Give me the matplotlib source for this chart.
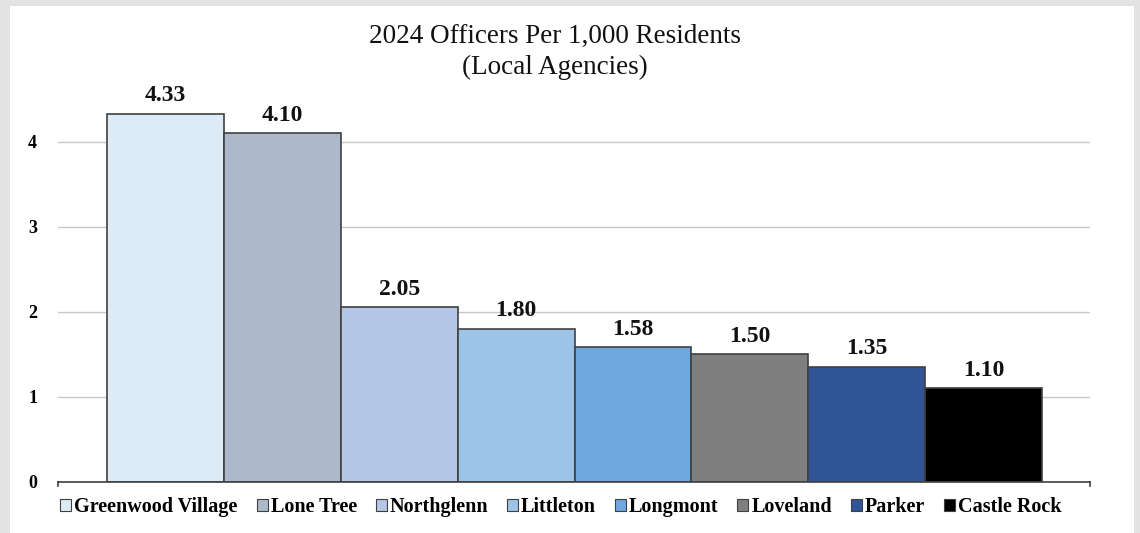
import matplotlib
matplotlib.use("Agg")
import matplotlib.pyplot as plt
from matplotlib.patches import Rectangle, Patch

agencies = ["Greenwood Village", "Lone Tree", "Northglenn", "Littleton",
            "Longmont", "Loveland", "Parker", "Castle Rock"]
values = [4.33, 4.10, 2.05, 1.80, 1.58, 1.50, 1.35, 1.10]
colors = ["#DDEBF7", "#ADB9CA", "#B4C7E7", "#9DC3E6",
          "#6FA8DC", "#7F7F7F", "#2F5597", "#000000"]
yticks = [0, 1, 2, 3, 4]
title = "2024 Officers Per 1,000 Residents\n(Local Agencies)"

serif = ["Liberation Serif", "DejaVu Serif"]

fig = plt.figure(figsize=(11.4, 5.33), dpi=100)
fig.patch.set_facecolor("#E3E3E3")
fig.patches.append(Rectangle((10/1140, 0), (1134-10)/1140, 1-6/533,
                             transform=fig.transFigure, facecolor="white",
                             edgecolor="none", zorder=-10))

ax = fig.add_axes([58/1140, 1-481.7/533, (1090-58)/1140, (481.7-90.7)/533])
ax.set_facecolor("none")

xs = list(range(len(agencies)))
bars = ax.bar(xs, values, width=1.0, color=colors, edgecolor="#404040",
              linewidth=1.2, zorder=3)
for x, v in zip(xs, values):
    ax.text(x, v + 0.09, f"{v:.2f}", ha="center", va="bottom",
            fontsize=17, fontweight="bold", family=serif, color="#111111")

ax.set_xlim(-0.92, 7.91)
ax.set_ylim(0, 4.6)
ax.set_yticks(yticks)
ax.set_yticklabels([str(t) for t in yticks], fontsize=13, fontweight="bold",
                   family=serif)
ax.tick_params(axis="y", length=0, pad=15)
ax.set_xticks([])
ax.grid(axis="y", color="#C8C8C8", linewidth=1.0, zorder=0)
for s in ["left", "top", "right"]:
    ax.spines[s].set_visible(False)
ax.spines["bottom"].set_color("#404040")
ax.spines["bottom"].set_linewidth(1.2)
ax.spines["bottom"].set_zorder(4)
# end tick marks on baseline
for xe in (-0.92, 7.91):
    ax.plot([xe, xe], [0, -0.05], color="#404040", lw=1.2, clip_on=False, zorder=4)

fig.text(0.487, 1-52/533, title, ha="center", va="center", fontsize=19.5,
         family=serif, linespacing=1.35, color="#111111")

handles = [Patch(facecolor=c, edgecolor="#404040", linewidth=0.8) for c in colors]
leg = fig.legend(handles, agencies, loc="center", bbox_to_anchor=(0.492, 1-507/533),
                 ncol=8, frameon=False, handlelength=0.55, handleheight=0.55,
                 handletextpad=0.15, columnspacing=0.93,
                 prop={"family": serif, "weight": "bold", "size": 14.5})

fig.savefig("out.png", dpi=100, facecolor=fig.get_facecolor())
